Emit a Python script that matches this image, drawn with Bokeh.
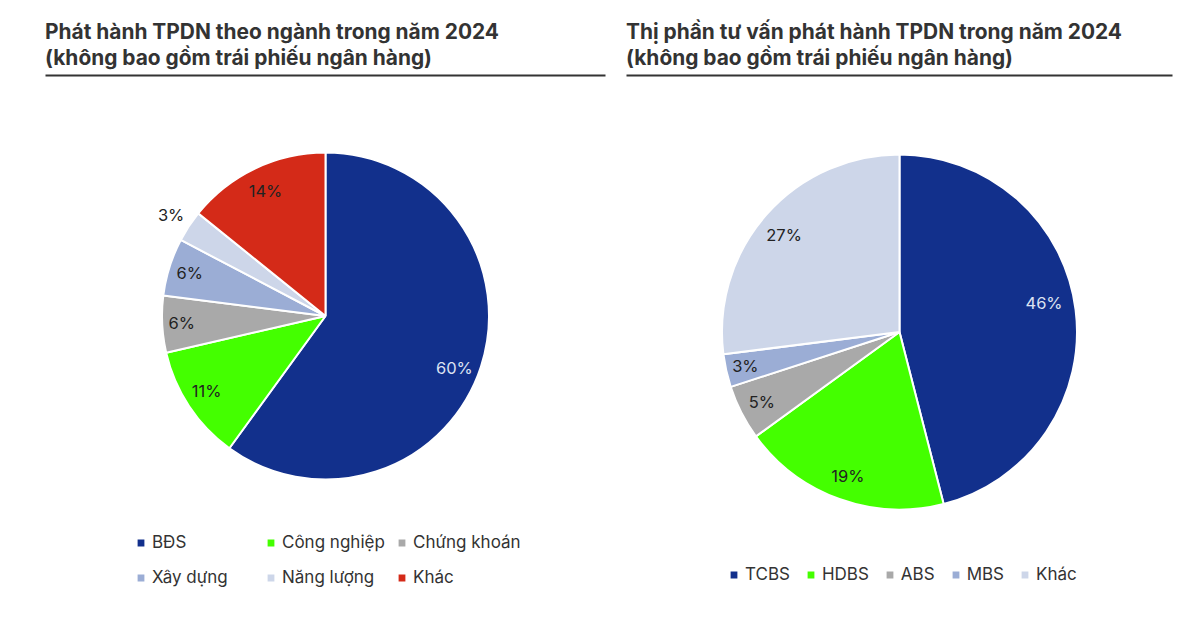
import math
from bokeh.core.properties import value
from bokeh.embed import file_html
from bokeh.layouts import row
from bokeh.models import ColumnDataSource, Legend, LegendItem
from bokeh.plotting import figure
from bokeh.resources import INLINE

# ---- data ----
sector_names = ["BĐS", "Công nghiệp", "Chứng khoán", "Xây dựng", "Năng lượng", "Khác"]
sector_values = [60, 11.4, 5.6, 5.7, 3.1, 14.2]
advisor_names = ["TCBS", "HDBS", "ABS", "MBS", "Khác"]
advisor_values = [46, 19, 5, 3, 27]
sector_title = ["Phát hành TPDN theo ngành trong năm 2024", "(không bao gồm trái phiếu ngân hàng)"]
advisor_title = ["Thị phần tư vấn phát hành TPDN trong năm 2024", "(không bao gồm trái phiếu ngân hàng)"]

# ---- styles ----
sector_colors = ["#12308C", "#44FF00", "#A9A9A9", "#9BADD5", "#CDD6E9", "#D42A18"]
advisor_colors = ["#12308C", "#44FF00", "#A9A9A9", "#9BADD5", "#CDD6E9"]
sector_label_colors = ["#DDE3F2", "#222222", "#222222", "#222222", "#222222", "#222222"]
advisor_label_colors = ["#DDE3F2", "#222222", "#222222", "#222222", "#222222"]
sector_label_radius = [0.85, 0.86, 0.88, 0.87, 1.13, 0.85]
advisor_label_radius = [0.83, 0.86, 0.87, 0.89, 0.85]
sector_label_turn = [4, 1.2, 0, 0, 0, 0]
advisor_label_turn = [-4, 0, 0, 0, -1.3]
FONT = "Inter"
H = 616


def panel(width, left, titles, names, values, colors, lab_colors, lab_r, lab_turn, cx, cy, r, rule):
    p = figure(width=width, height=H, x_range=(left, left + width), y_range=(H, 0),
               output_backend="svg", toolbar_location=None, min_border=0)
    p.axis.visible = False
    p.grid.visible = False
    p.outline_line_color = None
    p.background_fill_color = "white"
    p.border_fill_color = "white"

    total = sum(values)
    starts, ends, lx, ly, texts = [], [], [], [], []
    cum = 0.0
    for v, lr, turn in zip(values, lab_r, lab_turn):
        a0 = cum / total * 2 * math.pi
        cum += v
        a1 = cum / total * 2 * math.pi
        # clockwise from twelve o'clock
        starts.append(math.pi / 2 - a1)
        ends.append(math.pi / 2 - a0)
        mid = (a0 + a1) / 2 + math.radians(turn)
        lx.append(cx + lr * r * math.sin(mid))
        ly.append(cy - lr * r * math.cos(mid))
        texts.append(f"{round(v / total * 100)}%")

    src = ColumnDataSource(dict(start=starts, end=ends, color=colors, name=names))
    w = p.wedge(x=cx, y=cy, radius=r, start_angle="start", end_angle="end", direction="anticlock",
                fill_color="color", line_color="white", line_width=2, source=src)
    p.text(x=lx, y=ly, text=texts, text_color=lab_colors, text_font=value(FONT), text_font_size="16.5px",
           text_align="center", text_baseline="middle")
    p.text(x=[rule[0] - 0.5] * 2, y=[31, 57], text=titles, text_font=value(FONT),
           text_font_size="20.9px", text_font_style="bold", text_color="#333333",
           text_align="left", text_baseline="middle")
    p.line(x=list(rule), y=[75, 75], line_color="#333333", line_width=2)
    return p, w


p1, w1 = panel(615, 0, sector_title, sector_names, sector_values, sector_colors,
               sector_label_colors, sector_label_radius, sector_label_turn, 325, 315.5, 163.5, (45, 605))
p2, w2 = panel(586, 615, advisor_title, advisor_names, advisor_values, advisor_colors,
               advisor_label_colors, advisor_label_radius, advisor_label_turn, 899, 331.5, 177.5, (626, 1172))


def legend(p, w, idx, names, x, y, orientation, spacing):
    lg = Legend(items=[LegendItem(label=names[i], renderers=[w], index=i) for i in idx],
                location=(x, y), orientation=orientation, spacing=spacing, padding=0, margin=0,
                glyph_width=11, glyph_height=11, label_standoff=6,
                label_text_font=FONT, label_text_font_size="17px", label_text_color="#333333",
                background_fill_alpha=0, border_line_color=None)
    p.add_layout(lg, "center")


legend(p1, w1, [0, 3], sector_names, 135, 29, "vertical", 15)
legend(p1, w1, [1, 4], sector_names, 265, 29, "vertical", 15)
legend(p1, w1, [2, 5], sector_names, 396, 29, "vertical", 15)
legend(p2, w2, range(5), advisor_names, 113, 32, "horizontal", 15)

open("out.html", "w").write(file_html(row(p1, p2, spacing=0), INLINE))
